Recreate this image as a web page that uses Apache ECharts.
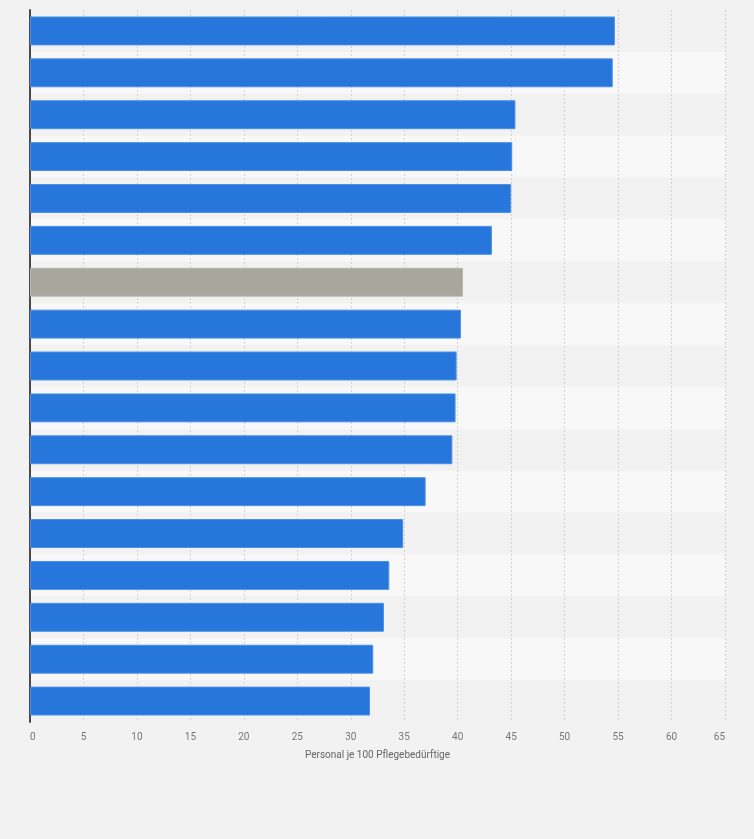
<!DOCTYPE html>
<html>
<head>
<meta charset="utf-8">
<script src="https://cdn.jsdelivr.net/npm/echarts@6/dist/echarts.min.js"></script>
<style>
  html, body { margin: 0; padding: 0; background: #f2f2f2; }
  #chart { width: 754px; height: 839px; }
</style>
</head>
<body>
<div id="chart"></div>
<script>
  // categories have no visible labels in the reference, so use row numbers
  var categories = ['1', '2', '3', '4', '5', '6', '7', '8', '9', '10', '11', '12', '13', '14', '15', '16', '17'];
  var values = [54.7, 54.5, 45.4, 45.1, 45.0, 43.2, 40.5, 40.3, 39.9, 39.8, 39.5, 37.0, 34.9, 33.6, 33.1, 32.1, 31.8];
  var highlighted = [6]; // grey bar (average / reference row)
  var xTicks = [0, 5, 10, 15, 20, 25, 30, 35, 40, 45, 50, 55, 60, 65];
  var axisTitle = 'Personal je 100 Pflegebedürftige';

  var barData = values.map(function (v, i) {
    var grey = highlighted.indexOf(i) !== -1;
    return {
      value: v,
      itemStyle: {
        color: grey ? '#a8a79d' : '#2776db',
        borderColor: grey ? '#b9b8b0' : '#4a8ee6',
        borderWidth: 1
      }
    };
  });

  var myChart = echarts.init(document.getElementById('chart'));
  var option = {
    backgroundColor: '#f2f2f2',
    animation: false,
    grid: { left: 30, right: 29, top: 10, bottom: 117, containLabel: false },
    xAxis: {
      type: 'value',
      min: xTicks[0],
      max: xTicks[xTicks.length - 1],
      interval: 5,
      name: axisTitle,
      nameLocation: 'middle',
      nameGap: 28,
      nameTextStyle: { fontFamily: 'Roboto', fontSize: 10, color: '#666' },
      axisLine: { show: false },
      axisTick: { show: false },
      axisLabel: {
        fontFamily: 'Roboto', fontSize: 10, color: '#777', margin: 10,
        alignMinLabel: 'left', alignMaxLabel: 'right'
      },
      splitLine: { show: true, lineStyle: { color: '#d2d2d2', type: [2, 2], width: 1 } }
    },
    yAxis: {
      type: 'category',
      data: categories,
      inverse: true,
      axisLine: { show: true, lineStyle: { color: '#4a4a4a', width: 2 } },
      axisTick: { show: false },
      axisLabel: { show: false },
      splitArea: { show: true, areaStyle: { color: ['#f2f2f2', '#f8f8f8'] } }
    },
    series: [{
      type: 'bar',
      data: barData,
      barWidth: '69%'
    }]
  };
  myChart.setOption(option);
</script>
</body>
</html>
